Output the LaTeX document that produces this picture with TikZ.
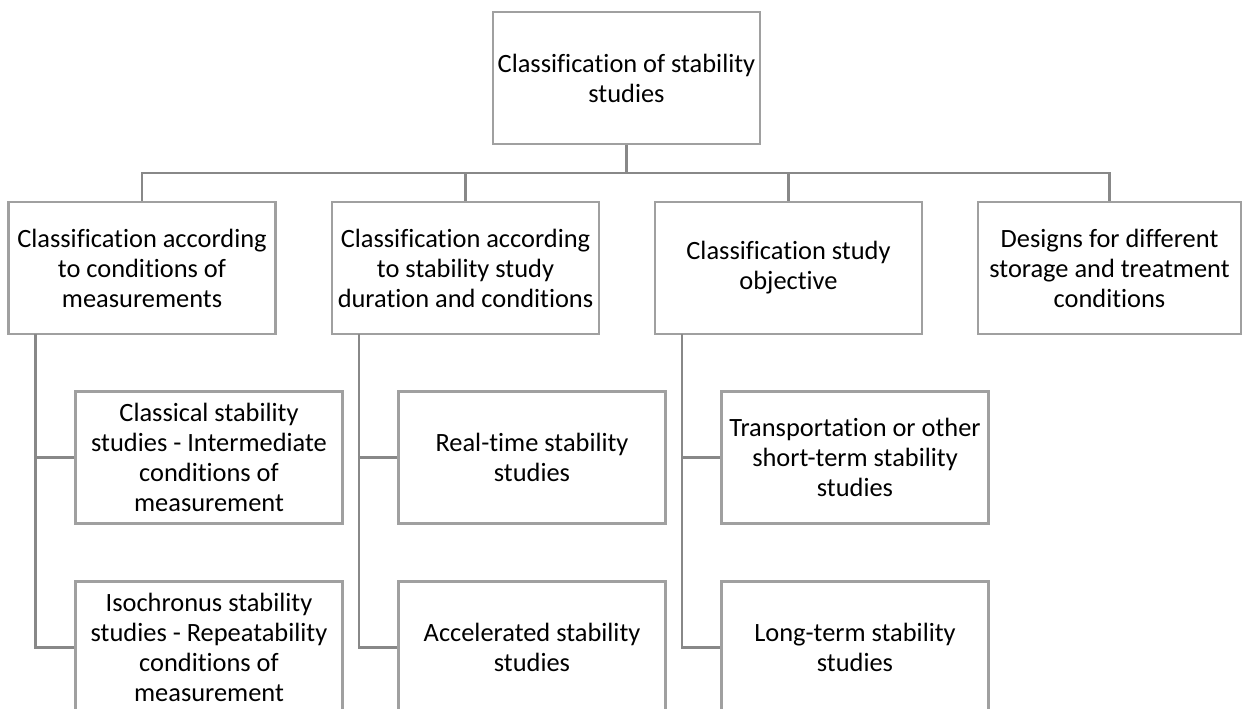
\documentclass[tikz,border=0pt]{standalone}
\usepackage{fontspec}
\setmainfont{Carlito}[Ligatures=NoCommon, Contextuals=NoAlternate]
\usepackage{tikz}
\usepackage{xcolor}

\definecolor{boxgray}{RGB}{160,160,160}
\definecolor{linegray}{RGB}{136,136,136}

\begin{document}
\begin{tikzpicture}[x=0.75pt, y=-0.75pt,
        box/.style={draw=boxgray, line width=1.6pt, minimum width=200.25pt,
            minimum height=99pt, inner sep=2pt, align=center,
            font=\fontsize{19.8}{22.5}\selectfont},
        link/.style={draw=linegray, line width=1.9pt}]
        \useasboundingbox (0,0) rectangle (1242,708);
        \clip (0,0) rectangle (1242,708);

        % Root
        \node[box] (root) at (626.5,78) {Classification of stability\\studies};

        % Main classes
        \node[box] (c1) at (142,268)   {Classification according\\to conditions of\\measurements};
        \node[box] (c2) at (465.5,268) {Classification according\\to stability study\\duration and conditions};
        \node[box] (c3) at (788.5,268) {Classification study\\objective};
        \node[box, minimum width=197.25pt] (c4) at (1109.5,268) {Designs for different\\storage and treatment\\conditions};

        % Sub classes
        \node[box] (s11) at (209,457.5) {Classical stability\\studies - Intermediate\\conditions of\\measurement};
        \node[box] (s12) at (209,647.5) {Isochronus stability\\studies - Repeatability\\conditions of\\measurement};
        \node[box] (s21) at (532,457.5) {Real-time stability\\studies};
        \node[box] (s22) at (532,647.5) {Accelerated stability\\studies};
        \node[box] (s31) at (855,457.5) {Transportation or other\\short-term stability\\studies};
        \node[box] (s32) at (855,647.5) {Long-term stability\\studies};

        % Bus
        \coordinate (bus) at (626.5,173);
        \draw[link] (root.south) -- (bus);
        \draw[link] (c1.north) |- (bus) -| (c4.north);
        \draw[link] (c2.north) -- (c2.north |- bus);
        \draw[link] (c3.north) -- (c3.north |- bus);

        % Spines
        \coordinate (sp1) at (35.5,334);
        \coordinate (sp2) at (359,334);
        \coordinate (sp3) at (682,334);
        \draw[link] (sp1) |- (s12.west);
        \draw[link] (sp1 |- s11.west) -- (s11.west);
        \draw[link] (sp2) |- (s22.west);
        \draw[link] (sp2 |- s21.west) -- (s21.west);
        \draw[link] (sp3) |- (s32.west);
        \draw[link] (sp3 |- s31.west) -- (s31.west);
    \end{tikzpicture}
\end{document}
